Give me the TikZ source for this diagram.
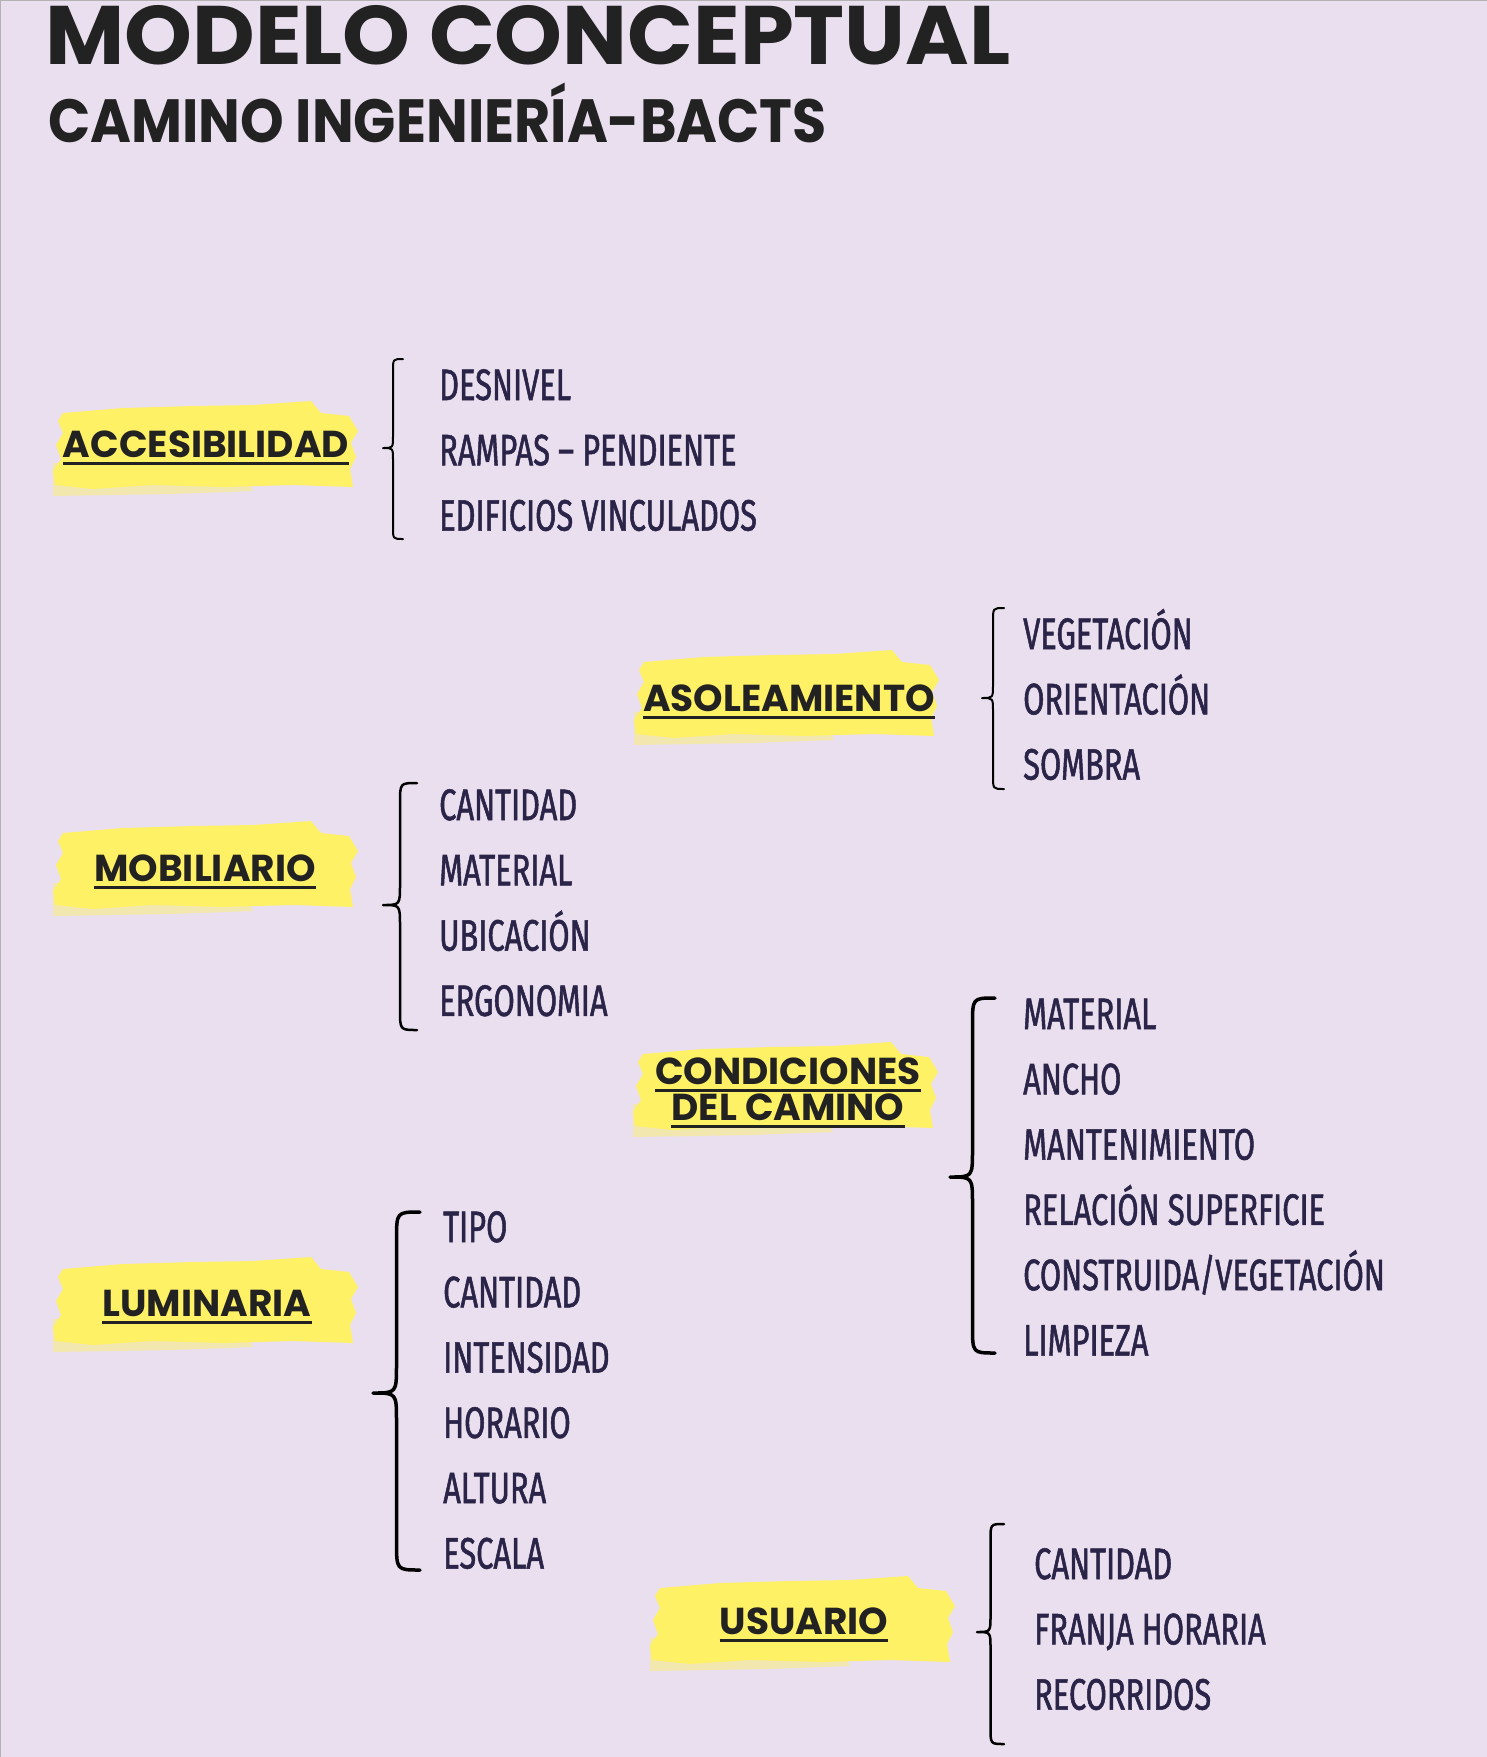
\documentclass[tikz,border=0pt]{standalone}
\usepackage{fontspec}
\setmainfont{Poppins}
\newfontfamily\manofont{Fira Sans}[FakeStretch=0.7, FakeBold=1.2]
\usetikzlibrary{positioning}

\definecolor{fondo}{RGB}{234,223,238}
\definecolor{amarillo}{RGB}{255,241,102}
\definecolor{tinta}{RGB}{34,34,34}
\definecolor{azul}{RGB}{42,36,72}

\tikzset{
  titulo/.style={anchor=base west, inner sep=0pt, text=tinta, xscale=1.04, transform shape, font=\fontsize{83}{83}\selectfont\bfseries},
  subtitulo/.style={anchor=base west, inner sep=0pt, text=tinta, xscale=0.91, transform shape, font=\fontsize{61}{61}\selectfont\bfseries},
  categoria/.style={anchor=base, inner sep=0pt, text=tinta, font=\fontsize{37.5}{37.5}\selectfont\bfseries},
  item/.style={anchor=base west, inner sep=0pt, text=azul, font=\manofont\fontsize{44}{44}\selectfont},
  subrayado/.style={line width=3pt, tinta},
  llave/.style={line width=2pt, black, line cap=round, line join=round}
}

% brochazo amarillo, esquina superior izquierda en (#1,#2)
\newcommand{\brocha}[2]{%
  \fill[amarillo, shift={(#1,-#2)}] (10,-12) -- (70,-7) -- (140,-5) -- (200,-4) -- (258,0) -- (268,-12)
    -- (296,-15) -- (305,-30) -- (298,-42) -- (303,-56) -- (297,-68) -- (300,-86) -- (240,-84)
    -- (170,-86) -- (100,-84) -- (40,-88) -- (2,-84) -- (0,-70) -- (8,-58) -- (3,-44) -- (10,-32) -- (5,-20) -- cycle;
  \fill[amarillo, opacity=.45, shift={(#1,-#2)}] (0,-62) -- (190,-68) -- (200,-90) -- (120,-93) -- (0,-95) -- cycle;
}

% llave: punta x, extremo x, arriba y, punta y, abajo y
\newcommand{\llaveizq}[6][]{%
  \pgfmathsetmacro\llm{(#2+#3)/2}
  \pgfmathsetmacro\llr{(#3-#2)*0.6}
  \draw[llave,#1] (#3,-#4) .. controls (\llm,-#4) .. (\llm,-#4-\llr) -- (\llm,-#5+\llr)
    .. controls (\llm,-#5) .. (#2,-#5) .. controls (\llm,-#5) .. (\llm,-#5-\llr)
    -- (\llm,-#6+\llr) .. controls (\llm,-#6) .. (#3,-#6);
}

\begin{document}
\begin{tikzpicture}[x=1pt, y=1pt]
  \fill[fondo] (0,0) rectangle (1487,-1757);
  \useasboundingbox (0,0) rectangle (1487,-1757);
  \draw[gray!60, line width=1.5pt] (0,-1757) -- (0,-0.7) -- (1487,-0.7);

  % titulos
  \node[titulo] (tit) at (45,-64) {MODELO CONCEPTUAL};
  \node[subtitulo] (sub) at (48,-142) {CAMINO INGENIERÍA-BACTS};

  % brochazos
  \brocha{53}{401}
  \brocha{634}{650}
  \brocha{53}{821}
  \brocha{633}{1042}
  \brocha{53}{1257}
  \brocha{650}{1576}

  % categorias
  \node[categoria] (acc) at (206,-457) {ACCESIBILIDAD};
  \node[categoria] (aso) at (789,-711) {ASOLEAMIENTO};
  \node[categoria] (mob) at (205,-881) {MOBILIARIO};
  \node[categoria] (con1) at (788,-1084) {CONDICIONES};
  \node[categoria] (con2) at (788,-1120) {DEL CAMINO};
  \node[categoria] (lum) at (207,-1316) {LUMINARIA};
  \node[categoria] (usu) at (804,-1634) {USUARIO};
  \foreach \c in {acc,aso,mob,con1,con2,lum,usu}
    \draw[subrayado] ([yshift=-6pt]\c.base west) -- ([yshift=-6pt]\c.base east);

  % llaves
  \llaveizq{383}{403}{359}{448}{539}
  \llaveizq{982}{1004}{608}{698}{789}
  \llaveizq[line width=2.5pt]{383}{417}{783}{905}{1030}
  \llaveizq[line width=3.5pt]{950}{995}{998}{1177}{1353}
  \llaveizq[line width=3.5pt]{373}{420}{1212}{1393}{1570}
  \llaveizq[line width=2.5pt]{977}{1004}{1524}{1632}{1744}

  % items
  \foreach \t [count=\i from 0] in {DESNIVEL, RAMPAS – PENDIENTE, EDIFICIOS VINCULADOS}
    \node[item] (acc\i) at (439,{-400-65.3*\i}) {\t};
  \foreach \t [count=\i from 0] in {VEGETACIÓN, ORIENTACIÓN, SOMBRA}
    \node[item] (aso\i) at (1023,{-649-65.3*\i}) {\t};
  \foreach \t [count=\i from 0] in {CANTIDAD, MATERIAL, UBICACIÓN, ERGONOMIA}
    \node[item] (mob\i) at (439,{-820-65.3*\i}) {\t};
  \foreach \t [count=\i from 0] in {MATERIAL, ANCHO, MANTENIMIENTO, RELACIÓN SUPERFICIE, CONSTRUIDA/VEGETACIÓN, LIMPIEZA}
    \node[item] (con\i) at (1023,{-1029-65.3*\i}) {\t};
  \foreach \t [count=\i from 0] in {TIPO, CANTIDAD, INTENSIDAD, HORARIO, ALTURA, ESCALA}
    \node[item] (lum\i) at (443,{-1242-65.3*\i}) {\t};
  \foreach \t [count=\i from 0] in {CANTIDAD, FRANJA HORARIA, RECORRIDOS}
    \node[item] (usu\i) at (1034,{-1579-65.3*\i}) {\t};
\end{tikzpicture}
\end{document}
